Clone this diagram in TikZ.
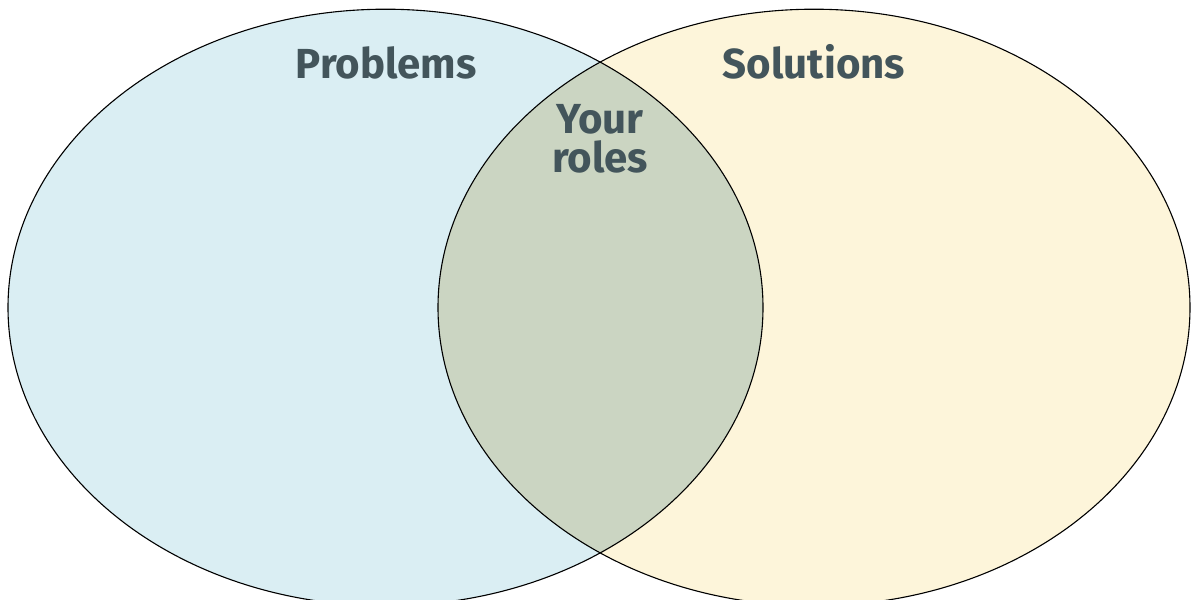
\documentclass[tikz,border=0pt]{standalone}
\usepackage{fontspec}
\setmainfont{Fira Sans}
\definecolor{probfill}{HTML}{DAEEF3}
\definecolor{solfill}{HTML}{FDF5DA}
\definecolor{bothfill}{HTML}{CBD5C2}
\definecolor{labeltext}{HTML}{43555B}
\begin{document}
\begin{tikzpicture}[x=1pt,y=-1pt,
  setlabel/.style={text=labeltext,font=\fontsize{42}{40}\selectfont\bfseries,inner sep=0pt,align=center},
  outline/.style={draw=black,line width=1.1pt}]
\useasboundingbox (0,0) rectangle (1192,600);
\begin{scope}
\clip (0,0) rectangle (1192,600);
\fill[probfill] (385.5,307.5) ellipse [x radius=377.5, y radius=298.3];
\fill[solfill] (814,307.5) ellipse [x radius=376, y radius=298.3];
\begin{scope}
\clip (385.5,307.5) ellipse [x radius=377.5, y radius=298.3];
\fill[bothfill] (814,307.5) ellipse [x radius=376, y radius=298.3];
\end{scope}
\draw[outline] (385.5,307.5) ellipse [x radius=377.5, y radius=298.3];
\draw[outline] (814,307.5) ellipse [x radius=376, y radius=298.3];
\end{scope}
\node[setlabel,anchor=base] (problems) at (386,78) {Problems};
\node[setlabel,anchor=base] (solutions) at (814,78) {Solutions};
\node[setlabel,anchor=base] (your) at (600,133) {Your};
\node[setlabel,anchor=base] (roles) at (600,172) {roles};
\end{tikzpicture}
\end{document}
